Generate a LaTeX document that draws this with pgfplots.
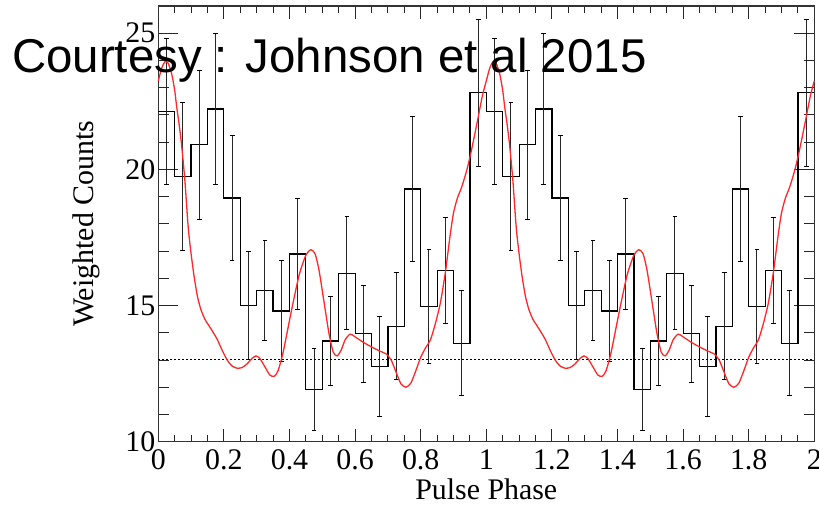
\documentclass[border=0pt]{standalone}
\usepackage{pgfplots}
\pgfplotsset{compat=1.18}
\usepackage{pgfplotstable}
\usepackage{fontspec}
\setmainfont{Liberation Serif}
\newfontfamily\helv{Liberation Sans}
\definecolor{curvered}{RGB}{255,40,40}

% error bars: bin centre, value, error (two identical cycles)
\pgfplotstableread{
x y e
0.025 22.12 2.68
0.075 19.74 2.72
0.125 20.90 2.74
0.175 22.22 2.78
0.225 18.95 2.30
0.275 15.00 1.98
0.325 15.55 1.85
0.375 14.80 1.87
0.425 16.89 2.03
0.475 11.93 1.51
0.525 13.70 1.62
0.575 16.19 2.08
0.625 13.97 1.78
0.675 12.76 1.85
0.725 14.24 1.96
0.775 19.28 2.67
0.825 14.96 2.08
0.875 16.28 1.95
0.925 13.62 1.94
0.975 22.81 2.70
1.025 22.12 2.68
1.075 19.74 2.72
1.125 20.90 2.74
1.175 22.22 2.78
1.225 18.95 2.30
1.275 15.00 1.98
1.325 15.55 1.85
1.375 14.80 1.87
1.425 16.89 2.03
1.475 11.93 1.51
1.525 13.70 1.62
1.575 16.19 2.08
1.625 13.97 1.78
1.675 12.76 1.85
1.725 14.24 1.96
1.775 19.28 2.67
1.825 14.96 2.08
1.875 16.28 1.95
1.925 13.62 1.94
1.975 22.81 2.70
}\errtab

% model light curve, one cycle
\pgfplotstableread{
x y
0.000 23.25
0.010 23.70
0.020 23.95
0.030 23.90
0.041 23.50
0.050 22.90
0.056 22.30
0.063 21.70
0.071 20.90
0.081 19.60
0.091 17.90
0.100 16.90
0.110 16.00
0.120 15.30
0.130 14.85
0.142 14.50
0.155 14.25
0.168 14.00
0.180 13.75
0.195 13.35
0.210 13.00
0.225 12.78
0.240 12.70
0.255 12.72
0.270 12.85
0.285 13.05
0.298 13.15
0.310 13.05
0.325 12.75
0.340 12.45
0.353 12.40
0.365 12.60
0.380 13.25
0.395 14.15
0.410 15.05
0.430 16.15
0.450 16.85
0.465 17.05
0.478 16.90
0.490 16.30
0.505 15.15
0.520 14.00
0.533 13.30
0.545 13.15
0.557 13.35
0.570 13.75
0.585 13.95
0.600 13.85
0.625 13.65
0.650 13.48
0.675 13.33
0.695 13.22
0.710 13.00
0.725 12.55
0.740 12.12
0.755 12.00
0.770 12.15
0.785 12.60
0.800 13.10
0.815 13.45
0.830 13.75
0.845 14.35
0.860 15.10
0.875 16.20
0.890 17.60
0.900 18.40
0.912 18.95
0.925 19.35
0.940 19.95
0.952 20.55
0.965 21.30
0.975 21.90
0.988 22.70
1.000 23.25
}\curvetab

\begin{document}
\begin{tikzpicture}
\begin{axis}[
  scale only axis,
  width=328bp, height=217.85bp,
  xmin=0, xmax=2, ymin=10, ymax=26,
  xtick={0,0.2,0.4,0.6,0.8,1,1.2,1.4,1.6,1.8,2},
  xticklabels={0,0.2,0.4,0.6,0.8,1,1.2,1.4,1.6,1.8,2},
  ytick={10,15,20,25},
  minor x tick num=3,
  minor y tick num=4,
  tick align=inside,
  xtick style={/pgfplots/major tick length=6.3bp,/pgfplots/minor tick length=3.4bp},
  ytick style={/pgfplots/major tick length=10bp,/pgfplots/minor tick length=5.3bp},
  tick style={line width=0.5bp, black!85},
  axis line style={line width=0.7bp, black!80},
  /pgf/number format/assume math mode=true,
  ticklabel style={font=\fontsize{15}{18}\selectfont},
  yticklabel style={xshift=2bp},
  xticklabel style={yshift=-0.5bp},
  xlabel={Pulse Phase},
  ylabel={Weighted Counts},
  every axis x label/.style={at={(axis description cs:0.5,-0.11)}, anchor=center, font=\fontsize{15}{18}\selectfont},
  every axis y label/.style={at={(axis description cs:-0.1098,0.5)}, rotate=90, anchor=center, font=\fontsize{15}{18}\selectfont},
  clip=false,
]
\coordinate (SW) at (rel axis cs:0,0);
\coordinate (NE) at (rel axis cs:1,1);

% histogram steps
\addplot[const plot, black, line width=0.6bp, mark=none] coordinates {
(0.00,22.12) (0.05,19.74) (0.10,20.90) (0.15,22.22) (0.20,18.95)
(0.25,15.00) (0.30,15.55) (0.35,14.80) (0.40,16.89) (0.45,11.93)
(0.50,13.70) (0.55,16.19) (0.60,13.97) (0.65,12.76) (0.70,14.24)
(0.75,19.28) (0.80,14.96) (0.85,16.28) (0.90,13.62) (0.95,22.81)
(1.00,22.12) (1.05,19.74) (1.10,20.90) (1.15,22.22) (1.20,18.95)
(1.25,15.00) (1.30,15.55) (1.35,14.80) (1.40,16.89) (1.45,11.93)
(1.50,13.70) (1.55,16.19) (1.60,13.97) (1.65,12.76) (1.70,14.24)
(1.75,19.28) (1.80,14.96) (1.85,16.28) (1.90,13.62) (1.95,22.81)
(2.00,22.81)};

% error bars
\addplot[draw=none, mark=none,
  error bars/.cd, y dir=both, y explicit,
  error bar style={draw=black!85, line width=0.5bp, solid},
  error mark options={rotate=90, mark size=1.2bp, line width=0.5bp, draw=black}]
  table[x=x, y=y, y error=e] {\errtab};

% dotted background level
\addplot[black, mark=none, line width=0.6bp, dash pattern=on 0.8bp off 1.2bp] coordinates {(0,13.03) (2,13.03)};

% model curve
\addplot[curvered, mark=none, line width=0.65bp, smooth, tension=0.4] table[x=x, y=y] {\curvetab};
\addplot[curvered, mark=none, line width=0.65bp, smooth, tension=0.4] table[x expr=\thisrow{x}+1, y=y] {\curvetab};

\node[anchor=base west, inner sep=0pt, font=\helv\fontsize{23.8}{28}\selectfont] at (axis cs:-0.447,23.54) {Courtesy : Johnson et al 2015};
\end{axis}
\pgfresetboundingbox
\path[use as bounding box] ([shift={(-79.15bp,-31.65bp)}]SW) rectangle ([shift={(2.35bp,3bp)}]NE);
\end{tikzpicture}
\end{document}
